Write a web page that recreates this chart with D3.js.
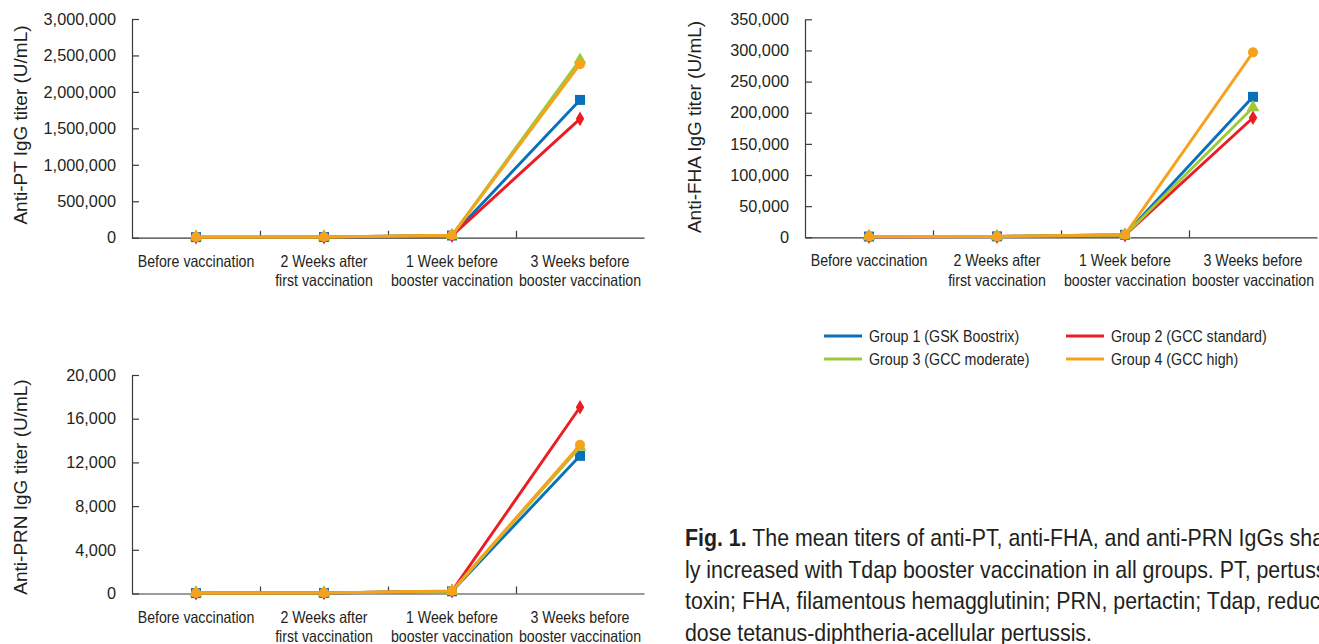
<!DOCTYPE html>
<html>
<head>
<meta charset="utf-8">
<script src="https://cdn.jsdelivr.net/npm/d3@7"></script>
<style>
  html, body { margin: 0; padding: 0; background: #fff; overflow: hidden; }
  svg { display: block; }
  text { font-family: "Liberation Sans", Arial, Helvetica, sans-serif; }
</style>
</head>
<body>
<svg id="chart" width="1319" height="644"></svg>
<script>
// ---------- DATA ----------
const categories = [
  ["Before vaccination"],
  ["2 Weeks after", "first vaccination"],
  ["1 Week before", "booster vaccination"],
  ["3 Weeks before", "booster vaccination"]
];
const groupNames = ["Group 1 (GSK Boostrix)", "Group 2 (GCC standard)", "Group 3 (GCC moderate)", "Group 4 (GCC high)"];
const groupColors = ["#0a70ba", "#ec1c24", "#9dc93b", "#f6a21c"];
const groupSymbols = ["square", "diamond", "triangle", "circle"];

// Anti-PT IgG titer (U/mL)
const ptG1 = [8000, 9000, 30000, 1890000];
const ptG2 = [7000, 8000, 28000, 1630000];
const ptG3 = [8000, 9000, 32000, 2440000];
const ptG4 = [8000, 10000, 33000, 2380000];
const ptTicks = [0, 500000, 1000000, 1500000, 2000000, 2500000, 3000000];

// Anti-FHA IgG titer (U/mL)
const fhaG1 = [1200, 1500, 4000, 225500];
const fhaG2 = [1000, 1200, 3500, 192000];
const fhaG3 = [1100, 1300, 3800, 208500];
const fhaG4 = [1200, 1400, 4200, 297000];
const fhaTicks = [0, 50000, 100000, 150000, 200000, 250000, 300000, 350000];

// Anti-PRN IgG titer (U/mL)
const prnG1 = [40, 50, 200, 12600];
const prnG2 = [35, 45, 220, 17050];
const prnG3 = [40, 50, 210, 13400];
const prnG4 = [45, 55, 240, 13600];
const prnTicks = [0, 4000, 8000, 12000, 16000, 20000];

const yTitles = ["Anti-PT IgG titer (U/mL)", "Anti-FHA IgG titer (U/mL)", "Anti-PRN IgG titer (U/mL)"];

const captionLines = [
  [["Fig. 1.", true], [" The mean titers of anti-PT, anti-FHA, and anti-PRN IgGs sharp-", false]],
  [["ly increased with Tdap booster vaccination in all groups. PT, pertussis", false]],
  [["toxin; FHA, filamentous hemagglutinin; PRN, pertactin; Tdap, reduced-", false]],
  [["dose tetanus-diphtheria-acellular pertussis.", false]]
];

// ---------- LAYOUT ----------
const panels = [
  { series: [ptG1, ptG2, ptG3, ptG4], ticks: ptTicks, title: yTitles[0], x0: 132, x1: 644, yTop: 19, yBot: 237.7, titleX: 27, titleY: 125 },
  { series: [fhaG1, fhaG2, fhaG3, fhaG4], ticks: fhaTicks, title: yTitles[1], x0: 805, x1: 1317, yTop: 19.3, yBot: 237.3, titleX: 700.5, titleY: 127 },
  { series: [prnG1, prnG2, prnG3, prnG4], ticks: prnTicks, title: yTitles[2], x0: 132, x1: 644, yTop: 375, yBot: 593.5, titleX: 27, titleY: 487 }
];

const svg = d3.select("#chart");
const textColor = "#231f20";
const axisColor = "#3a3a3a";
const condensed = 0.87;   // horizontal squeeze to mimic the condensed face

const symbolTypes = {
  square: d3.symbolSquare, diamond: d3.symbolDiamond, triangle: d3.symbolTriangle, circle: d3.symbolCircle
};
const symbolSizes = { square: 100, diamond: 62, triangle: 72, circle: 80 };

panels.forEach(p => {
  const g = svg.append("g");
  const idx = d3.range(categories.length);
  const x = d3.scalePoint().domain(idx).range([p.x0, p.x1]).padding(0.5);
  const xb = d3.scaleLinear().domain([0, categories.length]).range([p.x0, p.x1]);
  const y = d3.scaleLinear().domain([0, d3.max(p.ticks)]).range([p.yBot, p.yTop]);

  // Y axis
  const yAxis = d3.axisLeft(y).tickValues(p.ticks).tickFormat(d3.format(","))
    .tickSizeInner(-7).tickSizeOuter(0).tickPadding(16);
  const ya = g.append("g").attr("transform", `translate(${p.x0},0)`).call(yAxis);
  ya.selectAll("path, line").attr("stroke", axisColor).attr("stroke-width", 1.2);
  ya.selectAll("text").attr("font-size", 16.3).attr("fill", textColor)
    .attr("font-family", '"Liberation Sans", Arial, sans-serif');

  // X axis (boundary ticks pointing up)
  const xAxis = d3.axisBottom(xb).tickValues(d3.range(1, categories.length)).tickFormat("")
    .tickSizeInner(-7).tickSizeOuter(0);
  const xa = g.append("g").attr("transform", `translate(0,${p.yBot})`).call(xAxis);
  xa.selectAll("path, line").attr("stroke", axisColor).attr("stroke-width", 1.2);

  // Category labels
  const lab = g.append("g").selectAll("text").data(categories).join("text")
    .attr("font-size", 16.3).attr("fill", textColor)
    .attr("text-anchor", "middle")
    .attr("transform", (d, i) => `translate(${x(i)},${p.yBot + 29}) scale(${condensed},1)`);
  lab.selectAll("tspan").data(d => d).join("tspan")
    .attr("x", 0)
    .attr("dy", (d, i) => i === 0 ? 0 : 19.5)
    .text(d => d);

  // Y title
  g.append("text").attr("font-size", 19).attr("fill", textColor)
    .attr("text-anchor", "middle")
    .attr("transform", `translate(${p.titleX},${p.titleY}) rotate(-90)`)
    .text(p.title);

  // Series
  const line = d3.line().x((d, i) => x(i)).y(d => y(d));
  p.series.forEach((vals, k) => {
    g.append("path").datum(vals).attr("d", line)
      .attr("fill", "none").attr("stroke", groupColors[k]).attr("stroke-width", 2.9)
      .attr("stroke-linejoin", "round");
    const sym = d3.symbol().type(symbolTypes[groupSymbols[k]]).size(symbolSizes[groupSymbols[k]]);
    g.append("g").selectAll("path").data(vals).join("path")
      .attr("d", sym)
      .attr("transform", (d, i) => `translate(${x(i)},${y(d)})`)
      .attr("fill", groupColors[k]);
  });
});

// Legend
const legendPos = [[824, 336], [1066, 336], [824, 359], [1066, 359]];
const leg = svg.append("g");
groupNames.forEach((name, k) => {
  const [lx, ly] = legendPos[k];
  leg.append("line").attr("x1", lx).attr("x2", lx + 38).attr("y1", ly).attr("y2", ly)
    .attr("stroke", groupColors[k]).attr("stroke-width", 2.9);
  leg.append("text").attr("font-size", 16).attr("fill", textColor)
    .attr("transform", `translate(${lx + 45},${ly + 6}) scale(0.89,1)`).text(name);
});

// Caption
const cap = svg.append("g");
const capBase = [546, 577.5, 609, 640.5];
captionLines.forEach((parts, i) => {
  const t = cap.append("text").attr("font-size", 24).attr("fill", textColor)
    .attr("transform", `translate(685,${capBase[i]}) scale(0.89,1)`);
  parts.forEach(([s, bold]) => {
    t.append("tspan").attr("font-weight", bold ? "bold" : "normal").text(s);
  });
});
</script>
</body>
</html>
